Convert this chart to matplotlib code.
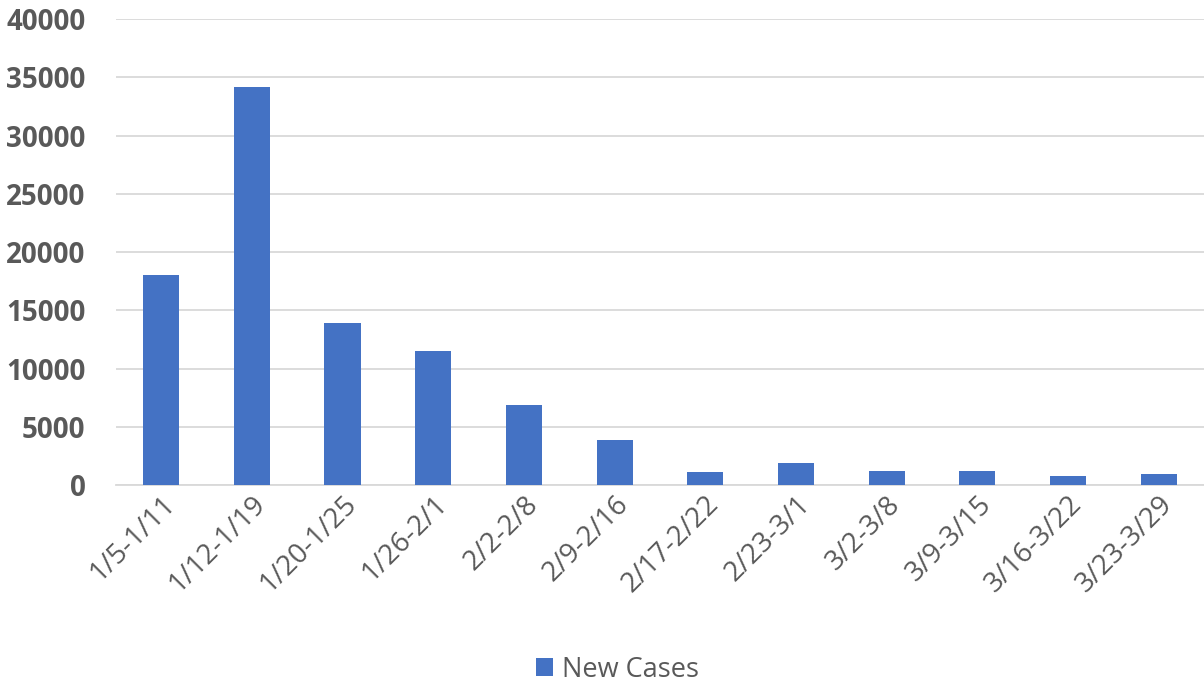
import matplotlib
matplotlib.use('Agg')
import matplotlib.pyplot as plt

# weekly new cases
WEEKS = ['1/5-1/11', '1/12-1/19', '1/20-1/25', '1/26-2/1', '2/2-2/8', '2/9-2/16',
         '2/17-2/22', '2/23-3/1', '3/2-3/8', '3/9-3/15', '3/16-3/22', '3/23-3/29']
NEW_CASES = [18000, 34200, 13900, 11500, 6850, 3850, 1150, 1900, 1200, 1200, 800, 900]
Y_TICKS = [0, 5000, 10000, 15000, 20000, 25000, 30000, 35000, 40000]

C_BAR = '#4472C4'
C_GRID = '#D9D9D9'
C_TEXT = '#595959'

plt.rcParams['font.family'] = ['Open Sans', 'DejaVu Sans']

fig = plt.figure(figsize=(12.04, 6.84), dpi=100)
ax = fig.add_axes([0.0963, 0.291, 0.9037, 0.681])

x = range(len(WEEKS))
ax.bar(x, NEW_CASES, width=0.4, color=C_BAR, zorder=3, label='New Cases')

ax.set_xlim(-0.5, len(WEEKS) - 0.5)
ax.set_ylim(0, 40000)
ax.set_yticks(Y_TICKS)
ax.set_yticklabels([str(v) for v in Y_TICKS], fontsize=20, fontweight='bold', color=C_TEXT)
ax.set_xticks(list(x))
ax.set_xticklabels(WEEKS, rotation=45, ha='right', rotation_mode='anchor',
                   fontsize=20, color=C_TEXT)
ax.tick_params(axis='both', length=0)
ax.tick_params(axis='y', pad=22)
ax.tick_params(axis='x', pad=4)

ax.grid(axis='y', color=C_GRID, lw=1.3, zorder=0)
for s in ['top', 'right', 'left']:
    ax.spines[s].set_visible(False)
ax.spines['bottom'].set_color(C_GRID)
ax.spines['bottom'].set_linewidth(1.3)

fig.legend(loc='lower center', bbox_to_anchor=(0.513, -0.035), frameon=False,
           fontsize=19.5, handlelength=0.6, handleheight=0.6, handletextpad=0.35,
           labelcolor=C_TEXT)

fig.savefig('out.png', dpi=100, facecolor='white')
